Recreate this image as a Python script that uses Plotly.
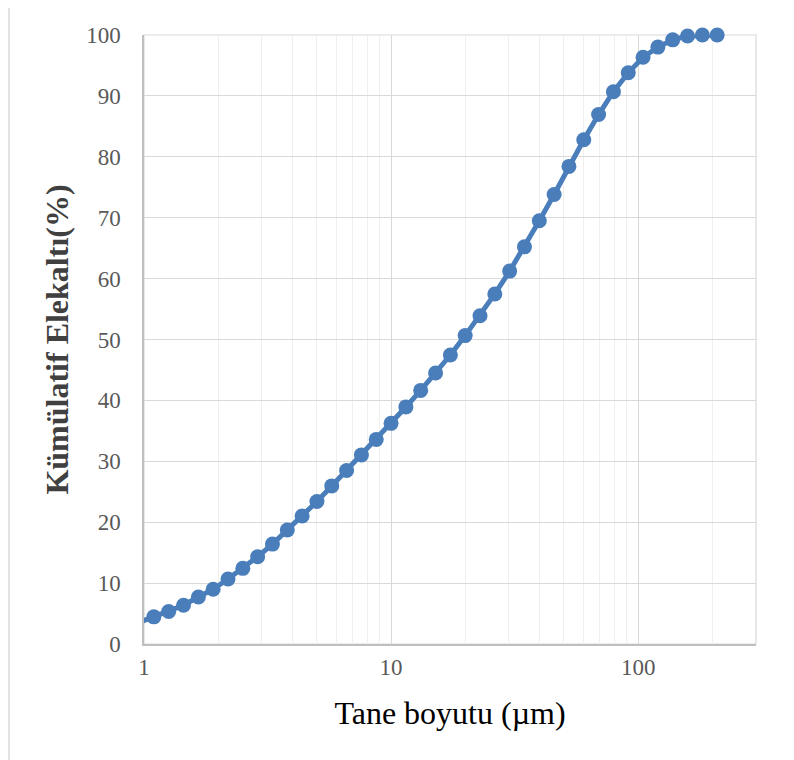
import plotly.graph_objects as go

# Particle size (µm) and cumulative undersize (%)
tane_boyutu = [0.955, 1.096, 1.259, 1.445, 1.660, 1.905, 2.188, 2.512, 2.884, 3.311,
               3.802, 4.365, 5.012, 5.754, 6.607, 7.586, 8.710, 10.00, 11.48, 13.18,
               15.14, 17.38, 19.95, 22.91, 26.30, 30.20, 34.67, 39.81, 45.71, 52.48,
               60.26, 69.18, 79.43, 91.20, 104.7, 120.2, 138.0, 158.5, 182.0, 208.9]
kumulatif = [3.55, 4.46, 5.33, 6.37, 7.72, 9.00, 10.67, 12.42, 14.33, 16.40,
             18.71, 21.02, 23.41, 25.96, 28.50, 31.05, 33.60, 36.23, 38.93, 41.64,
             44.51, 47.45, 50.64, 53.90, 57.48, 61.23, 65.21, 69.51, 73.81, 78.42,
             82.80, 86.94, 90.68, 93.79, 96.34, 98.01, 99.20, 99.84, 100.0, 100.0]

x_ticks = [1, 10, 100]
x_ticklabels = ["1", "10", "100"]

# page has an 8px body margin; compensate so the plot lands where the reference has it
OFF = 8
W, H = 794 - OFF, 760 - OFF
L, T = 144 - OFF, 35 - OFF
R, B = 794 - 756, 760 - 644
pw, ph = W - L - R, H - T - B

msize = [15 if v >= 1 else 0 for v in tane_boyutu]

fig = go.Figure()
fig.add_trace(go.Scatter(
    x=tane_boyutu, y=kumulatif, mode="lines+markers",
    line=dict(color="#4a7ebb", width=5),
    marker=dict(color="#4a7ebb", size=msize, opacity=1, line=dict(width=0)),
    cliponaxis=False, showlegend=False, hoverinfo="x+y",
))

serif = "Liberation Serif, Times New Roman, serif"
fig.update_layout(
    width=W, height=H,
    margin=dict(l=L, r=R, t=T, b=B),
    paper_bgcolor="white", plot_bgcolor="white",
    font=dict(family=serif, color="#595959"),
    shapes=[
        dict(type="rect", xref="paper", yref="paper",
             x0=(9 - 144) / pw, x1=(W + 40 - L) / pw,
             y0=-(B + 40) / ph, y1=1 + (35 - 5) / ph,
             line=dict(color="#d9d9d9", width=1.5), layer="below"),
        dict(type="rect", xref="paper", yref="paper", x0=0, x1=1, y0=0, y1=1,
             line=dict(color="#d9d9d9", width=1.2), layer="below"),
    ],
)
fig.update_xaxes(
    type="log", range=[0, 2.4771],
    tickvals=x_ticks, ticktext=x_ticklabels,
    tickfont=dict(size=23, color="#595959", family=serif),
    showgrid=True, gridcolor="#d9d9d9", gridwidth=1.2,
    minor=dict(showgrid=True, gridcolor="#efefef", gridwidth=1, dtick="D1", ticks=""),
    showline=True, linecolor="#bfbfbf", linewidth=1.5,
    mirror=False, ticks="outside", ticklen=2, tickcolor="rgba(0,0,0,0)",
    title=dict(text="Tane boyutu (µm)", font=dict(size=32, color="#000000", family=serif), standoff=22),
    zeroline=False,
)
fig.update_yaxes(
    range=[0, 100], dtick=10,
    tickfont=dict(size=23, color="#595959", family=serif),
    showgrid=True, gridcolor="#d9d9d9", gridwidth=1.2,
    showline=True, linecolor="#bfbfbf", linewidth=1.5,
    ticks="outside", ticklen=17, tickcolor="rgba(0,0,0,0)",
    title=dict(text="<b>Kümülatif Elekaltı(%)</b>", font=dict(size=32, color="#404040", family=serif), standoff=8),
    zeroline=False,
)

fig.write_html("out.html")
